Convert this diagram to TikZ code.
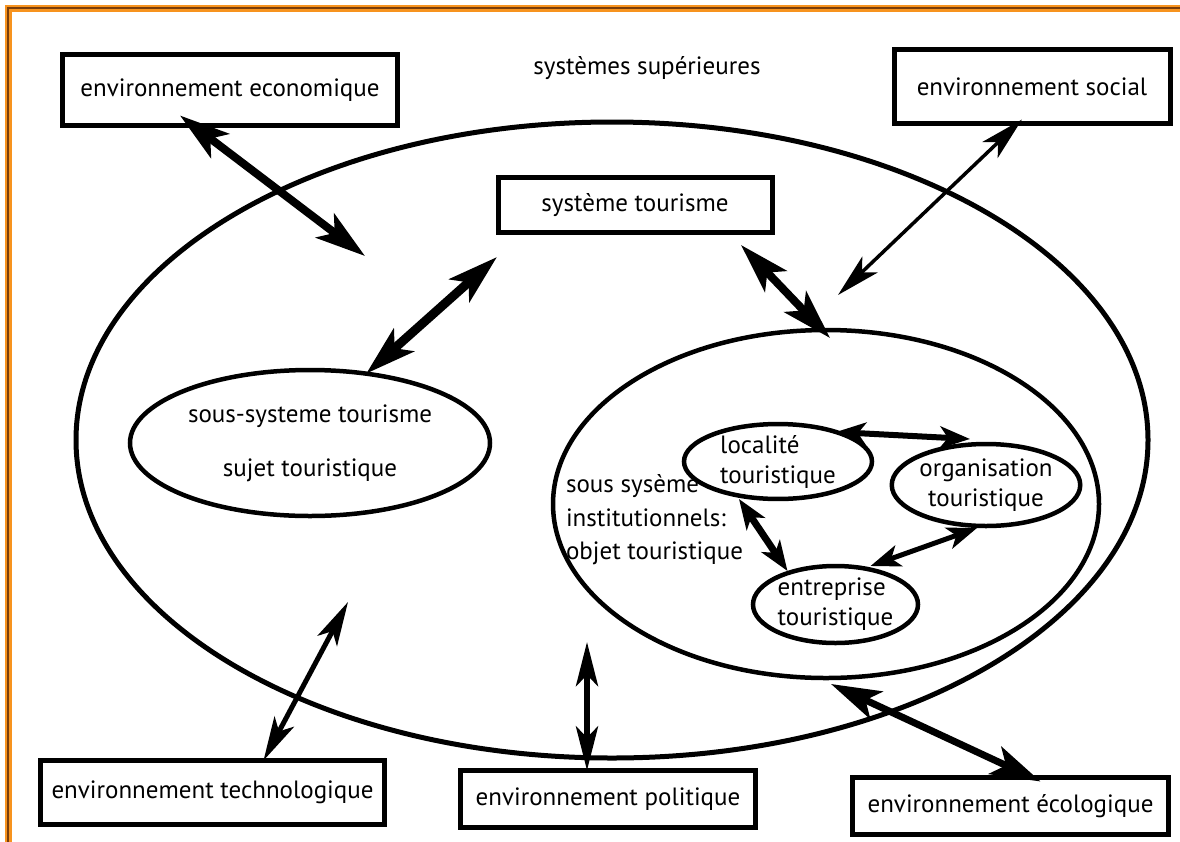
\documentclass[tikz,border=0pt]{standalone}
\usepackage{fontspec}
\setmainfont{PT Sans}
\usetikzlibrary{arrows.meta,shapes.geometric,calc}
\definecolor{frameorange}{HTML}{F7931E}
\definecolor{framebrown}{HTML}{7A3E0A}

\begin{document}
\begin{tikzpicture}[x=1pt, y=-1pt,
    every node/.style={font=\fontsize{25}{30}\selectfont, inner sep=0pt, outer sep=0pt},
    envbox/.style={rectangle, draw, line width=5pt, align=center},
    bubble/.style={ellipse, draw, line width=4.5pt, align=center},
    twoway/.style={{Stealth[length=50pt,width=30pt,inset=12pt]}-{Stealth[length=50pt,width=30pt,inset=12pt]}, line width=8pt},
    twowaythin/.style={{Stealth[length=44pt,width=22pt,inset=11pt]}-{Stealth[length=44pt,width=22pt,inset=11pt]}, line width=3.5pt},
    twowaysmall/.style={{Stealth[length=30pt,width=22pt,inset=8pt]}-{Stealth[length=30pt,width=22pt,inset=8pt]}, line width=6pt}
  ]
  \useasboundingbox (0,0) rectangle (1180,841);
  \begin{scope}
  \clip (0,0) rectangle (1180,841);

  % frame
  \draw[frameorange, line width=7pt] (8,860) -- (8,8) -- (1200,8);
  \draw[framebrown, line width=1.2pt] (8,860) -- (8,8) -- (1200,8);

  % environments
  \node[envbox, minimum width=335pt, minimum height=71pt] (eco) at (230,90) {environnement economique};
  \node[envbox, minimum width=276pt, minimum height=74pt] (social) at (1032,86.5) {environnement social};
  \node[envbox, minimum width=344pt, minimum height=64pt] (tech) at (212.5,792.5) {environnement technologique};
  \node[envbox, minimum width=295pt, minimum height=57pt] (pol) at (608,799) {environnement politique};
  \node[envbox, minimum width=316pt, minimum height=57pt] (ecol) at (1010.5,806) {environnement écologique};
  \node (sup) at (647,68) {systèmes supérieures};

  % systeme tourisme
  \node[bubble, line width=5pt, minimum width=1072pt, minimum height=636pt] (tour) at (612,440) {};
  \node[envbox, minimum width=274pt, minimum height=55pt] (sys) at (635,205) {système tourisme};
  \node[bubble, minimum width=360pt, minimum height=146pt] (sujet) at (310,443)
    {sous-systeme tourisme\\[24pt]sujet touristique};
  \node[bubble, minimum width=546pt, minimum height=348pt] (inst) at (826,504) {};
  \node[anchor=west, align=left, font=\fontsize{25}{33.5}\selectfont] (insttxt) at (566,520)
    {sous sysème\\institutionnels:\\objet touristique};
  \node[bubble, align=left, minimum width=188pt, minimum height=74pt] (loc) at (778,461.5) {localité\\touristique};
  \node[bubble, minimum width=166pt, minimum height=82pt] (org) at (986,485) {organisation\\touristique};
  \node[bubble, align=left, minimum width=165pt, minimum height=77pt] (ent) at (835.5,604.5) {entreprise\\touristique};

  % free ends
  \coordinate (eco-in) at (365,256);
  \coordinate (soc-in) at (838,295);
  \coordinate (sys-l) at (497,257);
  \coordinate (sys-r) at (741,245);
  \coordinate (tech-in) at (348,602);
  \coordinate (pol-in) at (587,642);
  \coordinate (ecol-in) at (831,684);

  % exchanges
  \draw[twoway] ($(eco.south)+(-50,-10)$) -- (eco-in);
  \draw[twowaythin] ($(social.south)+(-10,-4)$) -- (soc-in);
  \draw[twoway, line width=9pt] (sys-l) -- (sujet.51);
  \draw[twoway] (sys-r) -- ($(inst.north)+(4,8)$);
  \draw[twowaysmall] (loc.27) -- ($(org.north)+(-16,-5)$);
  \draw[twowaysmall, line width=7pt] ($(loc.south)+(-39,0)$) -- ($(ent.north)+(-48,5)$);
  \draw[twowaysmall, line width=5pt] ($(org.south)+(-9,2)$) -- ($(ent.north)+(35,0)$);
  \draw[twowaythin, line width=5pt] (tech-in) -- ($(tech.north)+(51,0)$);
  \draw[twowaythin, line width=6pt] (pol-in) -- ($(pol.north)+(-21,0)$);
  \draw[twoway, line width=7pt] (ecol-in) -- ($(ecol.north)+(30,4)$);
  \end{scope}
\end{tikzpicture}
\end{document}
